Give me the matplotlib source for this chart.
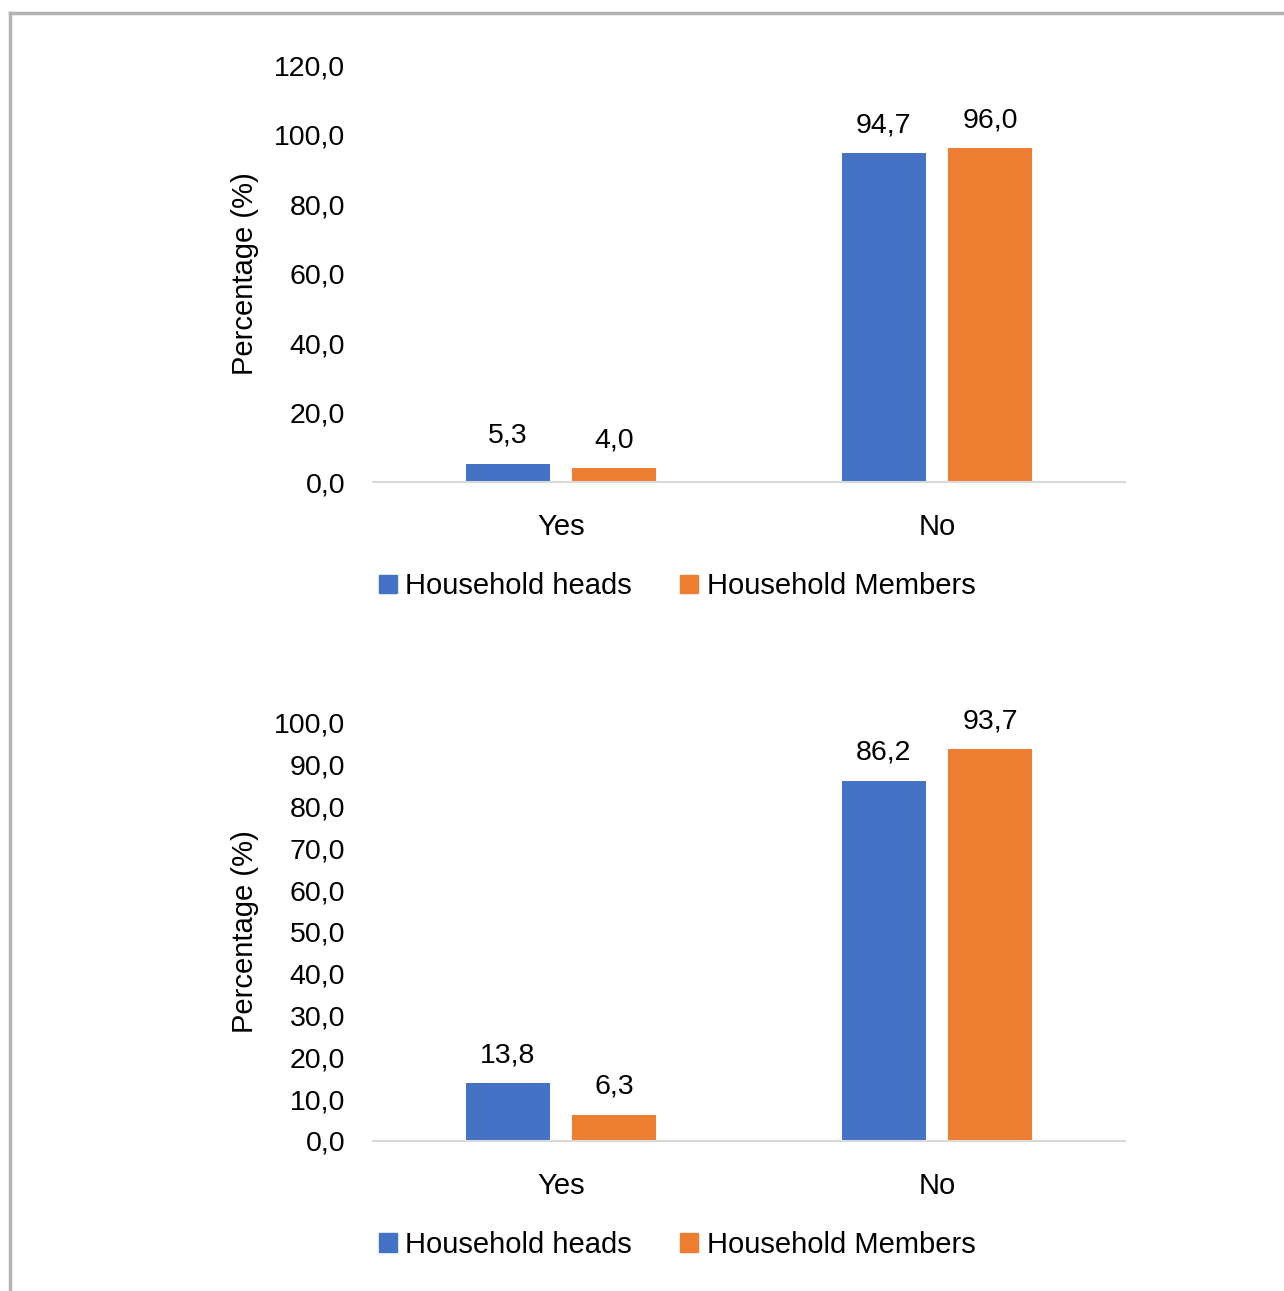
import matplotlib
matplotlib.use("Agg")
import matplotlib.pyplot as plt
from matplotlib.lines import Line2D
from matplotlib.patches import Patch

plt.rcParams['font.family'] = ['Liberation Sans', 'DejaVu Sans']

# data
categories = ["Yes", "No"]
series_names = ["Household heads", "Household Members"]
top_heads = [5.3, 94.7]
top_members = [4.0, 96.0]
bottom_heads = [13.8, 86.2]
bottom_members = [6.3, 93.7]
top_ticks = [0, 20, 40, 60, 80, 100, 120]
bottom_ticks = [0, 10, 20, 30, 40, 50, 60, 70, 80, 90, 100]

BLUE = "#4472C4"
ORANGE = "#ED7D31"
FS = 20.5


def fmt(v):
    return f"{v:.1f}".replace(".", ",")


def draw_panel(ax, heads, members, ticks):
    x = range(len(categories))
    w = 0.223
    off = 0.142
    b1 = ax.bar([i - off for i in x], heads, width=w, color=BLUE)
    b2 = ax.bar([i + off for i in x], members, width=w, color=ORANGE)
    for bars, vals in ((b1, heads), (b2, members)):
        for rect, v in zip(bars, vals):
            ax.annotate(fmt(v), (rect.get_x() + rect.get_width() / 2, v),
                        xytext=(0, 20), textcoords="offset points",
                        ha="center", va="center", fontsize=FS)
    ax.set_xlim(-0.5, 1.5)
    ax.set_ylim(ticks[0], ticks[-1])
    ax.set_yticks(ticks)
    ax.set_yticklabels([fmt(t) for t in ticks], fontsize=FS)
    ax.set_xticks(list(x))
    ax.set_xticklabels(categories, fontsize=21)
    ax.tick_params(axis="y", length=0, pad=20)
    ax.tick_params(axis="x", length=0, pad=22)
    for s in ("top", "right", "left"):
        ax.spines[s].set_visible(False)
    ax.spines["bottom"].set_color("#d9d9d9")
    ax.spines["bottom"].set_linewidth(1.5)
    ax.set_ylabel("Percentage (%)", fontsize=21, labelpad=11)


fig = plt.figure(figsize=(12.84, 12.91), dpi=100)
ax1 = fig.add_axes([0.2905, 0.6266, 0.5857, 0.3230])
ax2 = fig.add_axes([0.2905, 0.1162, 0.5857, 0.3238])

draw_panel(ax1, top_heads, top_members, top_ticks)
draw_panel(ax2, bottom_heads, bottom_members, bottom_ticks)

handles = [Patch(color=BLUE, label=series_names[0]),
           Patch(color=ORANGE, label=series_names[1])]
for ypos in (0.546, 0.0356):
    fig.legend(handles=handles, loc="center", bbox_to_anchor=(0.5275, ypos),
               ncol=2, frameon=False, fontsize=21, handlelength=0.6,
               handleheight=0.6, handletextpad=0.3, columnspacing=1.65)

# frame lines at top and left
fig.add_artist(Line2D([10.5 / 1284, 1.0], [1 - 13 / 1291, 1 - 13 / 1291],
                      color="#b3b3b3", lw=2.5, transform=fig.transFigure))
fig.add_artist(Line2D([10.5 / 1284, 10.5 / 1284], [0.0, 1 - 13 / 1291],
                      color="#b3b3b3", lw=2.5, transform=fig.transFigure))

fig.savefig("out.png", dpi=100)
